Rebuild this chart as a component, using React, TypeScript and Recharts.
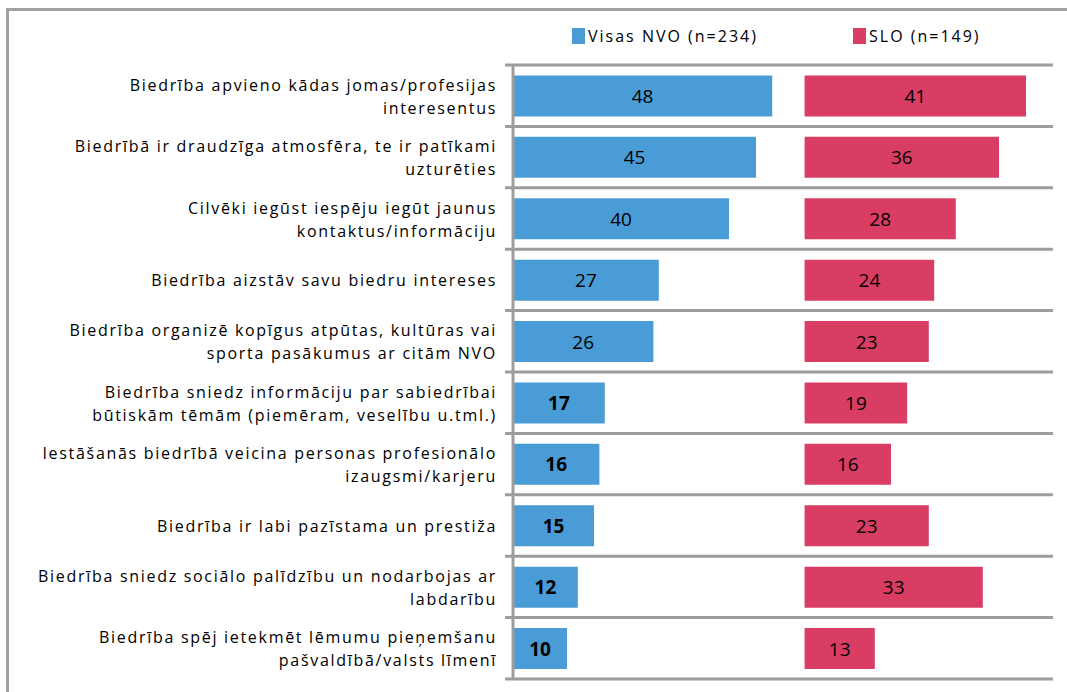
import React from "react";
import {
  Bar,
  BarChart,
  CartesianGrid,
  LabelList,
  XAxis,
  YAxis,
} from "recharts";

const categories = [
  "Biedrība apvieno kādas jomas/profesijas\ninteresentus",
  "Biedrībā ir draudzīga atmosfēra, te ir patīkami\nuzturēties",
  "Cilvēki iegūst iespēju iegūt jaunus\nkontaktus/informāciju",
  "Biedrība aizstāv savu biedru intereses",
  "Biedrība organizē kopīgus atpūtas, kultūras vai\nsporta pasākumus ar citām NVO",
  "Biedrība sniedz informāciju par sabiedrībai\nbūtiskām tēmām (piemēram, veselību u.tml.)",
  "Iestāšanās biedrībā veicina personas profesionālo\nizaugsmi/karjeru",
  "Biedrība ir labi pazīstama un prestiža",
  "Biedrība sniedz sociālo palīdzību un nodarbojas ar\nlabdarību",
  "Biedrība spēj ietekmēt lēmumu pieņemšanu\npašvaldībā/valsts līmenī",
];
const visasNvo = [48, 45, 40, 27, 26, 17, 16, 15, 12, 10];
const slo = [41, 36, 28, 24, 23, 19, 16, 23, 33, 13];
const seriesNames = ["Visas NVO (n=234)", "SLO (n=149)"];

// where the second panel starts on the shared 0..100 axis
const PANEL_OFFSET = 54;

const BLUE = "#4a9cd6";
const RED = "#d93d64";
const GRID = "#9d9d9d";
const FONT = "'Open Sans', sans-serif";

const data = categories.map((name, i) => ({
  name,
  nvo: visasNvo[i],
  gap: PANEL_OFFSET - visasNvo[i],
  slo: slo[i],
}));

function CategoryTick(props: any) {
  const { x, y, payload } = props;
  const lines = String(payload.value).split("\n");
  const dys = lines.length === 1 ? [6] : [-5, 18];
  return (
    <text x={x} y={y} textAnchor="end" fontFamily={FONT} fontSize={16} letterSpacing={1.7} fill="#000">
      {lines.map((l, i) => (
        <tspan key={i} x={x} y={y + dys[i]}>
          {l}
        </tspan>
      ))}
    </text>
  );
}

function ValueLabel(props: any) {
  const { x, y, width, height, value, bold } = props;
  return (
    <text
      x={x + width / 2}
      y={y + height / 2 + 7}
      textAnchor="middle"
      fontFamily={FONT}
      fontSize={19}
      fontWeight={bold && value <= 17 ? 700 : 400}
      fill="#000"
    >
      {value}
    </text>
  );
}

function TopLegend() {
  const items = [
    { color: BLUE, label: seriesNames[0], left: 572 },
    { color: RED, label: seriesNames[1], left: 853 },
  ];
  return (
    <>
      {items.map((it) => (
        <div
          key={it.label}
          style={{
            position: "absolute",
            left: it.left,
            top: 26,
            display: "flex",
            alignItems: "center",
            fontFamily: FONT,
            fontSize: 16,
            letterSpacing: 2,
            color: "#000",
            lineHeight: "20px",
            whiteSpace: "nowrap",
          }}
        >
          <span style={{ width: 13, height: 16, background: it.color, marginRight: 3 }} />
          {it.label}
        </div>
      ))}
    </>
  );
}

export default function App() {
  return (
    <div style={{ position: "relative", width: 1067, height: 692, overflow: "hidden", background: "#fff" }}>
      <style>{"body{margin:0}"}</style>
      <div style={{ position: "absolute", left: 0, top: 0 }}>
        <BarChart
          width={1067}
          height={692}
          data={data}
          layout="vertical"
          margin={{ top: 65, right: 14, bottom: 13, left: 0 }}
          barCategoryGap="17%"
        >
          <CartesianGrid
            vertical={false}
            horizontalCoordinatesGenerator={({ offset }: any) =>
              Array.from({ length: categories.length + 1 }, (_, i) => offset.top + (i * offset.height) / categories.length)
            }
            horizontal={(p: any) => (
              <line key={p.key} x1={p.x1 - 8} x2={p.x2} y1={p.y1} y2={p.y2} stroke={GRID} strokeWidth={3} />
            )}
          />
          <XAxis type="number" domain={[0, 100]} hide />
          <YAxis
            type="category"
            dataKey="name"
            width={513}
            tickLine={false}
            tickSize={0}
            tickMargin={16}
            axisLine={{ stroke: GRID, strokeWidth: 3 }}
            tick={<CategoryTick />}
            interval={0}
          />
          <Bar dataKey="nvo" stackId="a" fill={BLUE} isAnimationActive={false}>
            <LabelList dataKey="nvo" content={(p: any) => <ValueLabel {...p} bold />} />
          </Bar>
          <Bar dataKey="gap" stackId="a" fill="transparent" legendType="none" isAnimationActive={false} />
          <Bar dataKey="slo" stackId="a" fill={RED} isAnimationActive={false}>
            <LabelList dataKey="slo" content={(p: any) => <ValueLabel {...p} />} />
          </Bar>
        </BarChart>
      </div>
      <TopLegend />
      <div style={{ position: "absolute", left: 6, top: 8, width: 1100, height: 3, background: "#a0a0a0" }} />
      <div style={{ position: "absolute", left: 6, top: 8, width: 3, height: 700, background: "#a0a0a0" }} />
    </div>
  );
}
